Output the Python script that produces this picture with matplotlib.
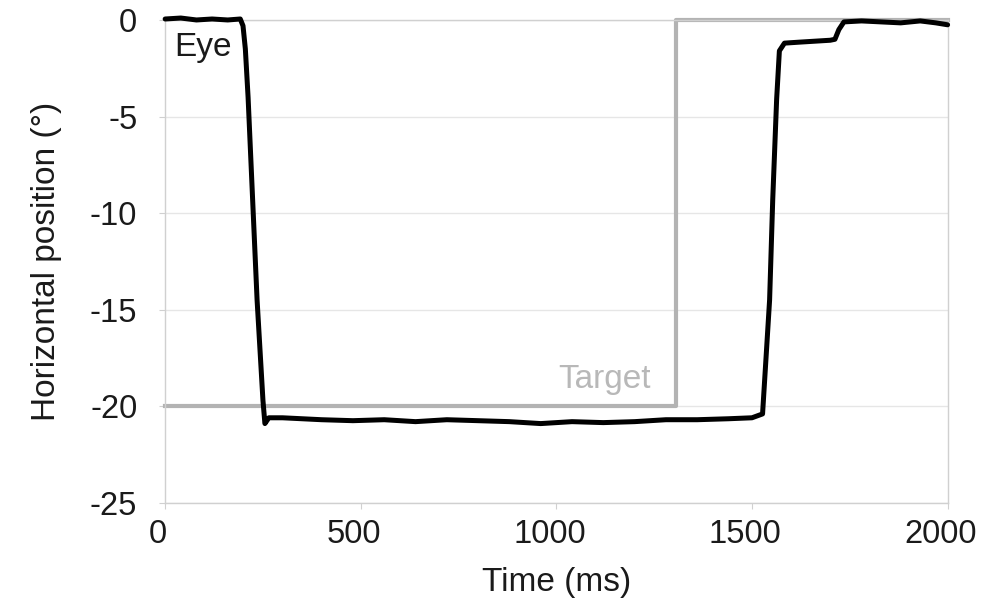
import matplotlib
matplotlib.use("Agg")
import matplotlib.pyplot as plt
from matplotlib.transforms import ScaledTranslation

plt.rcParams.update({
    "font.family": ["Liberation Sans", "DejaVu Sans"],
    "font.size": 24,
    "axes.unicode_minus": False,
})

# ── Data ───────────────────────────────────────────────────────────────────
target_t = [0, 1305, 1305, 2000]
target_pos = [-20, -20, 0, 0]

eye_t = [0, 40, 80, 120, 160, 192, 199, 205, 212, 235, 250, 255, 265,
         300, 350, 400, 480, 560, 640, 720, 800, 880, 960, 1040, 1120,
         1200, 1280, 1360, 1440, 1500, 1527, 1545, 1553, 1563, 1570, 1583,
         1620, 1660, 1700, 1712, 1722, 1735, 1780, 1830, 1880, 1930, 1970, 2000]
eye_pos = [0.05, 0.1, 0.0, 0.05, 0.0, 0.05, -0.3, -1.5, -4.0, -14.5, -19.7, -20.9, -20.6,
           -20.6, -20.65, -20.7, -20.75, -20.7, -20.8, -20.7, -20.75, -20.8, -20.9, -20.8, -20.85,
           -20.8, -20.7, -20.7, -20.65, -20.6, -20.4, -14.5, -9.3, -4.1, -1.6, -1.2,
           -1.15, -1.1, -1.05, -1.0, -0.5, -0.1, -0.05, -0.1, -0.15, -0.05, -0.15, -0.25]

y_ticks = [0, -5, -10, -15, -20, -25]
x_ticks = [0, 500, 1000, 1500, 2000]

# ── Figure ─────────────────────────────────────────────────────────────────
fig = plt.figure(figsize=(9.83, 6.05), dpi=100)
ax = fig.add_axes([0.168, 0.169, 0.796, 0.798])

ax.plot(target_t, target_pos, color="#b3b3b3", linewidth=3.0, zorder=2, clip_on=False)
ax.plot(eye_t, eye_pos, color="black", linewidth=3.6, zorder=3, clip_on=False,
        solid_joinstyle="round", solid_capstyle="round")

ax.set_xlim(0, 2000)
ax.set_ylim(-25, 0)
ax.set_xticks(x_ticks)
ax.set_yticks(y_ticks)
ax.yaxis.grid(True, color="#e6e6e6", linewidth=1.0)
ax.set_axisbelow(True)

for side in ["left", "bottom", "right", "top"]:
    ax.spines[side].set_color("#d0d0d0")
    ax.spines[side].set_linewidth(1.0)
ax.tick_params(axis="both", length=4, color="#d0d0d0", labelcolor="#1a1a1a",
               labelsize=23.5)
ax.tick_params(axis="y", pad=16)
ax.tick_params(axis="x", pad=8)

# labels in the original sit a little left of their ticks
shift = ScaledTranslation(-0.07, 0, fig.dpi_scale_trans)
for lbl in ax.get_xticklabels():
    lbl.set_transform(lbl.get_transform() + shift)

ax.set_xlabel("Time (ms)", labelpad=12, color="#1a1a1a")
ax.set_ylabel("Horizontal position (°)", labelpad=20, color="#1a1a1a")

ax.text(22, -1.45, "Eye", color="#1a1a1a", va="center", ha="left")
ax.text(1242, -18.6, "Target", color="#b8b8b8", va="center", ha="right")

fig.savefig("out.png", dpi=100)
